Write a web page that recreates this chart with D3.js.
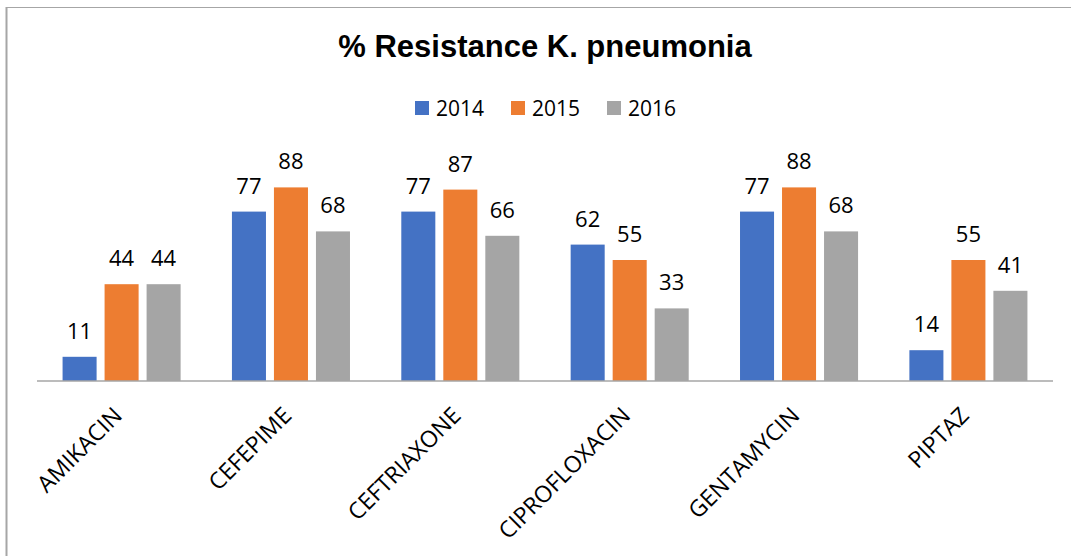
<!DOCTYPE html>
<html>
<head>
    <meta charset="utf-8">
    <title>% Resistance K. pneumonia</title>
    <script src="https://cdn.jsdelivr.net/npm/d3@7"></script>
    <style>
        html, body {
            margin: 0;
            padding: 0;
            background: #fff;
            overflow: hidden;
        }

        svg {
            display: block;
            position: absolute;
            left: 0;
            top: 0;
        }

        .title {
            font-family: "Liberation Sans", Arial, sans-serif;
            font-weight: bold;
            font-size: 31px;
            fill: #000;
        }

        .legend text, .value, .cat {
            font-family: "Open Sans", sans-serif;
            fill: #000;
        }
    </style>
</head>
<body>
<script type="text/javascript">
    var categories = ["AMIKACIN", "CEFEPIME", "CEFTRIAXONE", "CIPROFLOXACIN", "GENTAMYCIN", "PIPTAZ"];
    var years = ["2014", "2015", "2016"];
    var values2014 = [11, 77, 77, 62, 77, 14];
    var values2015 = [44, 88, 87, 55, 88, 55];
    var values2016 = [44, 68, 66, 33, 68, 41];
    var colors = ["#4472c4", "#ed7d31", "#a5a5a5"];

    var width = 1071,
        height = 556;

    var series = [values2014, values2015, values2016];

    var svg = d3.select("body").append("svg")
            .attr("width", width)
            .attr("height", height);

    // chart frame: only the left and top edges fall inside the picture
    svg.append("line")
            .attr("x1", 6).attr("x2", width)
            .attr("y1", 7.5).attr("y2", 7.5)
            .attr("stroke", "#a6a6a6")
            .attr("stroke-width", 1.2);
    svg.append("line")
            .attr("x1", 6.5).attr("x2", 6.5)
            .attr("y1", 7).attr("y2", height)
            .attr("stroke", "#a6a6a6")
            .attr("stroke-width", 2);

    svg.append("text")
            .attr("class", "title")
            .attr("x", 545)
            .attr("y", 57)
            .attr("text-anchor", "middle")
            .text("% Resistance K. pneumonia");

    // legend
    var legend = svg.append("g").attr("class", "legend")
            .attr("transform", "translate(415,101)");
    years.forEach(function (y, i) {
        var g = legend.append("g").attr("transform", "translate(" + (i * 96) + ",0)");
        g.append("rect")
                .attr("width", 14).attr("height", 14)
                .attr("fill", colors[i]);
        g.append("text")
                .attr("x", 21).attr("y", 14.5)
                .attr("font-size", "21px")
                .text(y);
    });

    var x0 = d3.scaleBand()
            .domain(categories)
            .range([37, 1053])
            .paddingInner(0.303)
            .paddingOuter(0.151);

    var x1 = d3.scaleBand()
            .domain(years)
            .range([0, x0.bandwidth()])
            .paddingInner(0.19);

    var y = d3.scaleLinear()
            .domain([0, 100])
            .range([381, 161]);

    var groups = svg.selectAll(".grp")
            .data(categories)
            .enter().append("g")
            .attr("class", "grp")
            .attr("transform", function (d) { return "translate(" + x0(d) + ",0)"; });

    groups.each(function (cat, ci) {
        var g = d3.select(this);
        years.forEach(function (yr, si) {
            var v = series[si][ci];
            g.append("rect")
                    .attr("x", x1(yr))
                    .attr("y", y(v))
                    .attr("width", x1.bandwidth())
                    .attr("height", y(0) - y(v))
                    .attr("fill", colors[si]);
            g.append("text")
                    .attr("class", "value")
                    .attr("x", x1(yr) + x1.bandwidth() / 2)
                    .attr("y", y(v) - 18)
                    .attr("text-anchor", "middle")
                    .attr("font-size", "22px")
                    .text(v);
        });
    });

    // baseline
    svg.append("line")
            .attr("x1", 37).attr("x2", 1053)
            .attr("y1", 381).attr("y2", 381)
            .attr("stroke", "#a6a6a6")
            .attr("stroke-width", 1.5);

    // rotated category labels
    svg.selectAll(".cat")
            .data(categories)
            .enter().append("text")
            .attr("class", "cat")
            .attr("font-size", "23px")
            .attr("text-anchor", "end")
            .attr("transform", function (d) {
                var cx = x0(d) + x0.bandwidth() / 2;
                return "translate(" + (cx + 2) + ",417) rotate(-45)";
            })
            .text(function (d) { return d; });
</script>
</body>
</html>
